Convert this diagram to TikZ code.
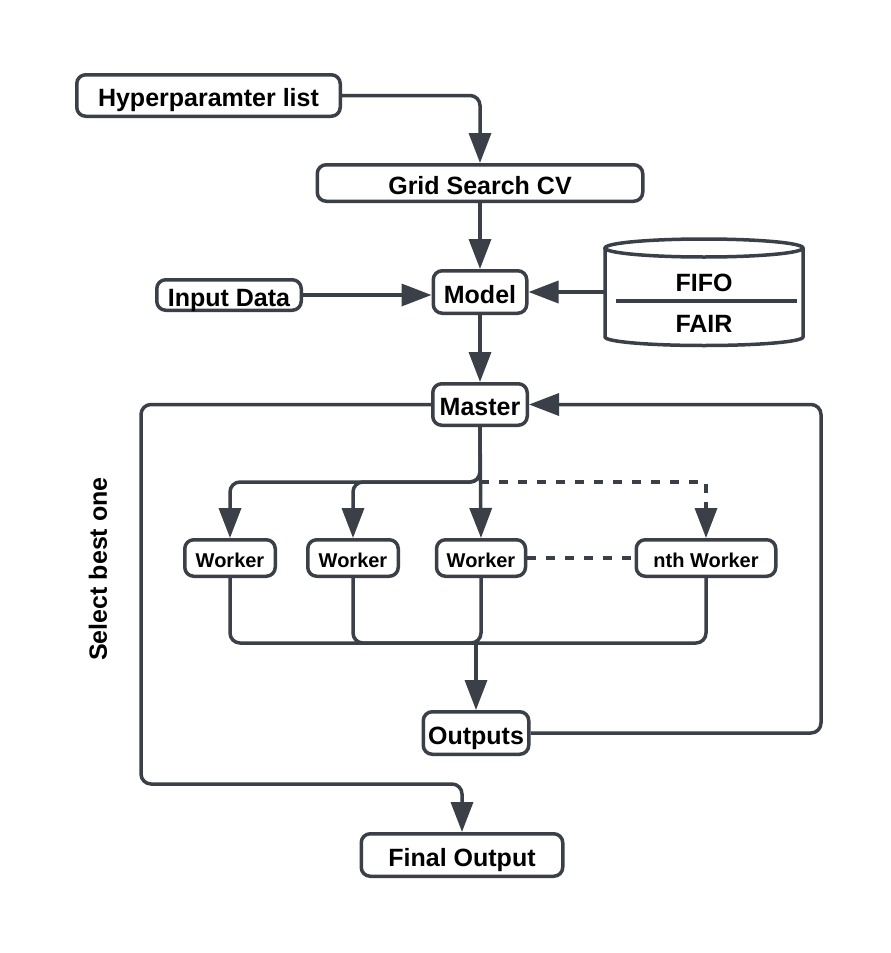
\documentclass[tikz,border=0pt]{standalone}
\usepackage{fontspec}
\setmainfont{Liberation Sans}
\usetikzlibrary{arrows.meta}
\definecolor{lc}{RGB}{58,63,72}
\begin{document}
\begin{tikzpicture}[x=1pt,y=-1pt,
  box/.style={draw=lc, line width=3.5pt, rounded corners=9pt, fill=white, inner sep=0pt,
    font=\bfseries\fontsize{25}{29}\selectfont, text=black, text height=22.5pt, text depth=0pt},
  wbox/.style={box, font=\bfseries\fontsize{20}{24}\selectfont, minimum height=36.5pt,
    text height=19.5pt, text depth=0pt},
  conn/.style={draw=lc, line width=3.5pt, rounded corners=10pt, line join=round},
  arr/.style={conn, -{Triangle[length=30pt,width=22pt]}},
  dotline/.style={draw=lc, line width=3.5pt, dash pattern=on 9pt off 10pt},
  lbl/.style={font=\bfseries\fontsize{25}{29}\selectfont, text=black, inner sep=0pt}
]
\useasboundingbox (0,0) rectangle (891,953);
\fill[white] (0,0) rectangle (891,953);

% nodes
\node[box, minimum width=263.5pt, minimum height=41.5pt] (hyp) at (208.5,95.5) {Hyperparamter list};
\node[box, minimum width=325.5pt, minimum height=36.5pt] (grid) at (480,183) {Grid Search CV};
\node[box, minimum width=93.5pt, minimum height=42.5pt] (model) at (480,292) {Model};
\node[box, minimum width=144.5pt, minimum height=30.5pt] (input) at (229,295) {Input Data};
\node[box, minimum width=94.5pt, minimum height=41.5pt] (master) at (480,404.5) {Master};
\node[wbox, minimum width=90.5pt] (w1) at (230,558) {Worker};
\node[wbox, minimum width=90.5pt] (w2) at (353,558) {Worker};
\node[wbox, minimum width=89pt] (w3) at (481,558) {Worker};
\node[wbox, minimum width=139.5pt] (wn) at (706,558) {nth Worker};
\node[box, minimum width=105.5pt, minimum height=42.5pt] (out) at (476,733) {Outputs};
\node[box, minimum width=201.5pt, minimum height=42.5pt] (final) at (462,855) {Final Output};

% cylinder (database)
\node[minimum width=198pt, minimum height=92pt, inner sep=0pt] (db) at (704,292) {};
\filldraw[draw=lc, fill=white, line width=3.5pt, line join=round]
  (605,248) -- (605,337) arc[start angle=180, end angle=0, x radius=99, y radius=8.5] -- (803,248);
\draw[lc, line width=3.5pt] (704,248) ellipse [x radius=99, y radius=9];
\draw[lc, line width=3.5pt] (616,301) -- (797,301);
\node[lbl] (fifo) at (704,283) {FIFO};
\node[lbl] (fair) at (704,324) {FAIR};

\node[lbl, rotate=90] (sel) at (98,569) {Select best one};

% coordinates
\coordinate (split) at (480,482);
\coordinate (merge) at (476,643);

% connectors
\draw[arr] (hyp.east) -| (grid.north);
\draw[arr] (grid.south) -- (model.north);
\draw[arr] (input.east) -- (input.east -| model.west);
\draw[arr] (db.west) -- (model.east);
\draw[arr] (model.south) -- (master.north);
\draw[arr] (master.west) -| (141,784) -| (final.north);
\draw[arr] (out.east) -| (821,600) |- (master.east);

\draw[arr] (master.south) -- (split) -| (w1.north);
\draw[arr] (master.south) -- (split) -| (w2.north);
\draw[arr] (master.south) -- (w3.north);
\draw[dotline] (split) -| ([yshift=36pt]wn.north);
\draw[arr] ([yshift=36pt]wn.north) -- (wn.north);
\draw[dotline] (w3.east) -- (wn.west);

\draw[conn] (w1.south) |- (merge);
\draw[conn] (w2.south) |- (merge);
\draw[conn] (w3.south) |- (merge);
\draw[conn] (wn.south) |- (merge);
\draw[arr] (merge) -- (out.north);
\end{tikzpicture}
\end{document}
